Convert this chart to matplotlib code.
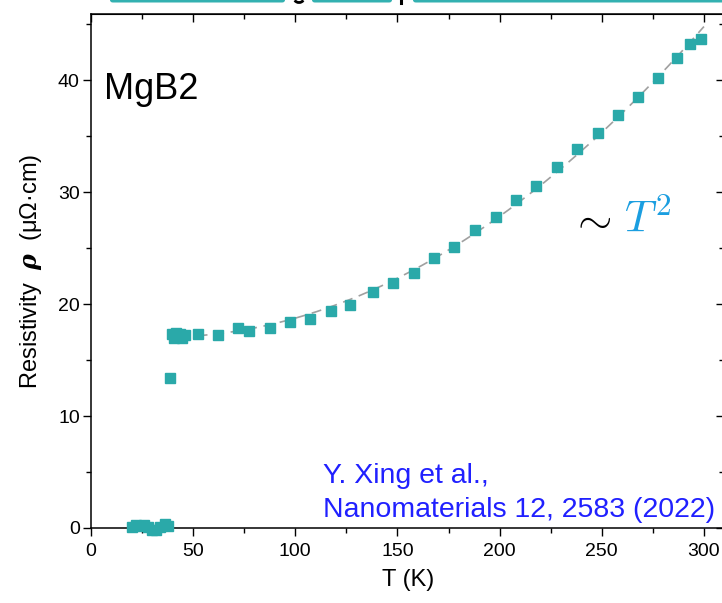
import numpy as np
import matplotlib
matplotlib.use("Agg")
import matplotlib.pyplot as plt
from matplotlib.lines import Line2D
from matplotlib.patches import FancyBboxPatch, Arc
from matplotlib.ticker import MultipleLocator

plt.rcParams["font.family"] = ["Liberation Sans", "DejaVu Sans"]

# MgB2 resistivity vs temperature
T_super = [20, 22, 24, 26, 28, 30, 32, 34, 36, 37.5]
rho_super = [0.1, 0.3, 0.2, 0.3, 0.1, -0.2, -0.2, 0.1, 0.4, 0.2]

T_trans = [38.7]
rho_trans = [13.4]

T_onset = [39.5, 40.5, 41.5, 42.5, 43.5, 44.5, 46.0]
rho_onset = [17.3, 17.0, 17.4, 17.1, 17.3, 17.0, 17.2]

T_normal = [52.5, 62, 72, 77.5, 87.5, 97.5, 107, 117.5, 127, 138, 148, 158, 168,
            177.5, 188, 198, 208, 218, 228, 238, 248, 258, 267.5, 277.5, 287, 293,
            298.5]
rho_normal = [17.3, 17.2, 17.9, 17.6, 17.9, 18.4, 18.7, 19.4, 19.9, 21.1, 21.9,
              22.8, 24.1, 25.1, 26.6, 27.8, 29.3, 30.5, 32.2, 33.8, 35.3, 36.9,
              38.5, 40.2, 42.0, 43.2, 43.7]

TEAL = "#2aa9a9"
BLUE = "#1b9ee0"
CITE = "#2020ff"

fig = plt.figure(figsize=(7.22, 6.03), dpi=100)
ax = fig.add_axes([0.126, 0.1244, 0.8773, 0.8524])

T_all = np.array(T_super + T_trans + T_onset + T_normal)
rho_all = np.array(rho_super + rho_trans + rho_onset + rho_normal)

# quadratic fit through the normal state
fit_T = np.array(T_onset + T_normal)
fit_rho = np.array(rho_onset + rho_normal)
coef = np.polyfit(fit_T, fit_rho, 2)
tt = np.linspace(44, 300, 300)
ax.plot(tt, np.polyval(coef, tt), color="#a0a0a0", lw=1.2, ls=(0, (6, 4)), zorder=2)

ax.plot(T_all, rho_all, "s", ms=7.5, color=TEAL, mec=TEAL, zorder=3, clip_on=False)

ax.set_xlim(0, 310)
ax.set_ylim(0, 45.9)
ax.xaxis.set_major_locator(MultipleLocator(50))
ax.xaxis.set_minor_locator(MultipleLocator(25))
ax.yaxis.set_major_locator(MultipleLocator(10))
ax.yaxis.set_minor_locator(MultipleLocator(5))

for sp in ax.spines.values():
    sp.set_linewidth(1.1)
ax.tick_params(which="both", direction="out", width=1.0, labelsize=14)
ax.tick_params(which="major", length=6)
ax.tick_params(which="minor", length=3.5)
ax.tick_params(axis="x", pad=5)
ax.tick_params(axis="y", pad=2)

# mirrored inward ticks on top and right
top = ax.secondary_xaxis("top")
top.xaxis.set_major_locator(MultipleLocator(50))
top.xaxis.set_minor_locator(MultipleLocator(25))
top.tick_params(which="both", direction="in", width=1.0, labeltop=False)
top.tick_params(which="major", length=6)
top.tick_params(which="minor", length=3.5)
right = ax.secondary_yaxis("right")
right.yaxis.set_major_locator(MultipleLocator(10))
right.yaxis.set_minor_locator(MultipleLocator(5))
right.tick_params(which="both", direction="in", width=1.0, labelright=False)
right.tick_params(which="major", length=6)
right.tick_params(which="minor", length=3.5)

ax.set_xlabel("T (K)", fontsize=17, labelpad=6)
ax.set_ylabel(r"Resistivity  $\mathbfit{\rho}$  (μΩ·cm)", fontsize=17, labelpad=10,
              math_fontfamily="dejavuserif")

ax.text(6.5, 38.3, "MgB2", fontsize=26, color="black")
ax.text(234.5, 26.4, r"$\sim$", fontsize=32, color="black", math_fontfamily="cm")
ax.text(261, 26.4, r"$T^2$", fontsize=32, color=BLUE, math_fontfamily="cm")

ax.text(113.5, 4.0, "Y. Xing et al.,", fontsize=20.5, color=CITE)
ax.text(113.5, 1.0, "Nanomaterials 12, 2583 (2022)", fontsize=20.5, color=CITE)

# highlighted strip running off the top edge
W, H = 722.0, 603.0
for x0, x1 in [(110, 285), (312, 392), (413, 740)]:
    fig.patches.append(FancyBboxPatch((x0 / W, 1 - 2.5 / H), (x1 - x0) / W, 8 / H,
                                      boxstyle="round,pad=0,rounding_size=0.004",
                                      transform=fig.transFigure, color="#33b1b1",
                                      lw=0))
# glyph tails poking down from the cut-off line
fig.patches.append(Arc((299 / W, 1 + 1 / H), 9 / W, 7 / H, theta1=200, theta2=340,
                       transform=fig.transFigure, color="black", lw=2.0))
fig.lines.append(Line2D([401 / W, 401 / W], [1, 1 - 3 / H], transform=fig.transFigure,
                        color="black", lw=2.2))

fig.savefig("out.png", dpi=100)
